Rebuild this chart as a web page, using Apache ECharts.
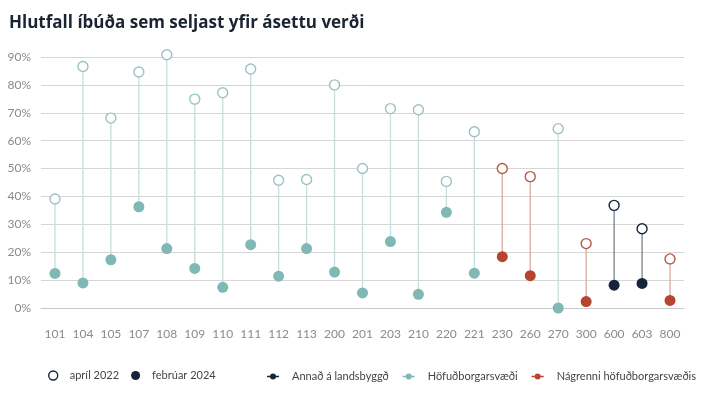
<!DOCTYPE html>
<html>
<head>
<meta charset="utf-8">
<script src="https://cdn.jsdelivr.net/npm/echarts@6/dist/echarts.min.js"></script>
<style>
  html, body { margin: 0; padding: 0; background: #fff; }
  #chart { width: 713px; height: 399px; }
</style>
</head>
<body>
<div id="chart"></div>
<script>
// póstnúmer
var categories = ['101', '104', '105', '107', '108', '109', '110', '111', '112', '113', '200', '201',
    '203', '210', '220', '221', '230', '260', '270', '300', '600', '603', '800'];
// svæði hvers póstnúmers
var regions = ['H', 'H', 'H', 'H', 'H', 'H', 'H', 'H', 'H', 'H', 'H', 'H',
    'H', 'H', 'H', 'H', 'N', 'N', 'H', 'N', 'A', 'A', 'N'];
var april2022 = [39.1, 86.6, 68.1, 84.6, 90.8, 74.9, 77.2, 85.7, 45.8, 46.1, 80.0, 50.0,
    71.5, 71.1, 45.4, 63.2, 50.0, 47.1, 64.3, 23.1, 36.8, 28.4, 17.6];
var februar2024 = [12.4, 9.0, 17.3, 36.3, 21.3, 14.2, 7.4, 22.7, 11.4, 21.3, 12.9, 5.4,
    23.8, 4.9, 34.3, 12.5, 18.4, 11.6, 0, 2.3, 8.2, 8.8, 2.7];
var yTicks = [0, 10, 20, 30, 40, 50, 60, 70, 80, 90];

var regionNames = { A: 'Annað á landsbyggð', H: 'Höfuðborgarsvæði', N: 'Nágrenni höfuðborgarsvæðis' };
var fillColor = { A: '#15243a', H: '#7fb8b4', N: '#b5452f' };
var ringColor = { A: '#15243a', H: '#9cc3c1', N: '#b55a45' };
var stemColor = { A: '#7a838d', H: '#c6dedd', N: '#d8a99e' };

var chart = echarts.init(document.getElementById('chart'));

function stemSeries(key) {
    var data = [];
    for (var i = 0; i < categories.length; i++) {
        if (regions[i] === key) data.push([i, april2022[i], februar2024[i]]);
    }
    return {
        name: regionNames[key],
        type: 'custom',
        z: 1,
        clip: false,
        data: data,
        renderItem: function (params, api) {
            var p1 = api.coord([api.value(0), api.value(1)]);
            var p2 = api.coord([api.value(0), api.value(2)]);
            return {
                type: 'line',
                shape: { x1: p1[0], y1: p1[1], x2: p2[0], y2: p2[1] },
                style: { stroke: stemColor[key], lineWidth: 1.3 }
            };
        },
        encode: { x: 0, y: [1, 2] }
    };
}

var openData = april2022.map(function (v, i) {
    return { value: v, itemStyle: { color: '#fff', borderColor: ringColor[regions[i]], borderWidth: 1.4 } };
});
var filledData = februar2024.map(function (v, i) {
    return { value: v, itemStyle: { color: fillColor[regions[i]] } };
});

var lineDot = 'path://M0,2.3H12V3.7H0Z M6,0A3,3 0 1,1 6,6A3,3 0 1,1 6,0Z';

chart.setOption({
    animation: false,
    title: {
        text: 'Hlutfall íbúða sem seljast yfir ásettu verði',
        left: 4,
        top: 10,
        textStyle: { fontFamily: 'Open Sans', fontWeight: 'bold', fontSize: 17, color: '#1b2431' }
    },
    legend: [{
        left: 43,
        top: 365,
        itemWidth: 9,
        itemHeight: 9,
        itemGap: 12,
        textStyle: { fontFamily: 'Lato', fontSize: 11, color: '#444', padding: [0, 0, 0, 7] },
        data: [
            { name: 'apríl 2022', icon: 'circle', itemStyle: { color: '#fff', borderColor: '#15243a', borderWidth: 1.4 } },
            { name: 'febrúar 2024', icon: 'circle', itemStyle: { color: '#15243a' } }
        ]
    }, {
        left: 262,
        top: 366,
        itemWidth: 12,
        itemHeight: 6,
        itemGap: 14,
        textStyle: { fontFamily: 'Lato', fontSize: 11, color: '#444', padding: [0, 0, 0, 8] },
        data: ['A', 'H', 'N'].map(function (k) {
            return { name: regionNames[k], icon: lineDot, itemStyle: { color: fillColor[k] } };
        })
    }],
    grid: { left: 41, right: 29, top: 57, bottom: 91 },
    xAxis: {
        type: 'category',
        data: categories,
        axisLine: { lineStyle: { color: '#c9c9c9' } },
        axisTick: { show: false },
        axisLabel: { margin: 20, fontFamily: 'Lato', fontSize: 12, color: '#8a8a8a' }
    },
    yAxis: {
        type: 'value',
        min: yTicks[0],
        max: yTicks[yTicks.length - 1],
        interval: 10,
        axisLine: { show: false },
        axisTick: { show: false },
        splitLine: { lineStyle: { color: '#d6d6d6' } },
        axisLabel: { formatter: '{value}%', margin: 10, fontFamily: 'Lato', fontSize: 12, color: '#8a8a8a' }
    },
    series: [
        stemSeries('A'),
        stemSeries('H'),
        stemSeries('N'),
        {
            name: 'apríl 2022',
            type: 'scatter',
            z: 3,
            clip: false,
            symbolSize: 10,
            itemStyle: { opacity: 1 },
            data: openData
        },
        {
            name: 'febrúar 2024',
            type: 'scatter',
            z: 3,
            clip: false,
            symbolSize: 11,
            itemStyle: { opacity: 1 },
            data: filledData
        }
    ]
});
</script>
</body>
</html>
